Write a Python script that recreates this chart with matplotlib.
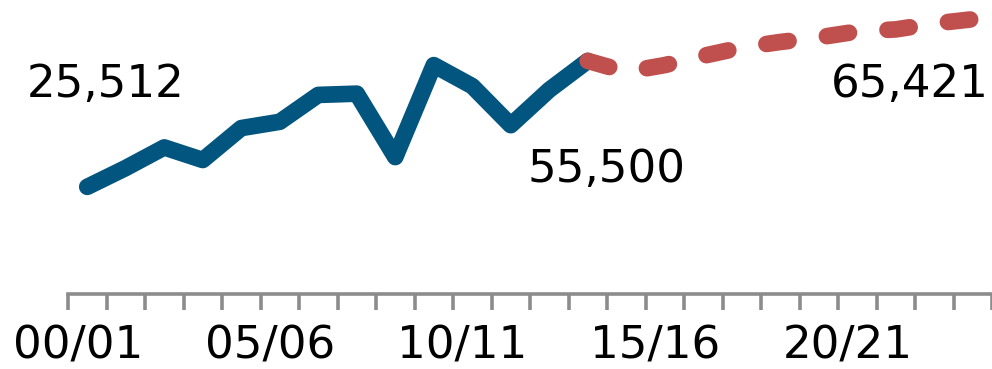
"""Enrolment-style trend: actual values (solid blue) and projection (dashed red)."""

import matplotlib
matplotlib.use('Agg')
import matplotlib.pyplot as plt
import numpy as np

# school years 00/01 .. 23/24, one category each
years = ['%02d/%02d' % (y, y + 1) for y in range(24)]
actual = [25512, 30000, 34900, 31900, 39500, 41000, 47400, 47700,
          32600, 54500, 49500, 40200, 48600, 55500]
projected = [55500, 52900, 54500, 56700, 58700, 60000, 61100,
             62500, 63000, 64400, 65421]
label_years = ['00/01', '05/06', '10/11', '15/16', '20/21']

BLUE = '#02557f'
RED = '#c0504d'
GREY = '#8c8c8c'
FS = 32.5
LW = 12

fig = plt.figure(figsize=(9.92, 3.69), dpi=100)
ax = fig.add_axes([68 / 992, 75 / 369, 1 - 68 / 992, 294 / 369])

x_act = np.arange(len(actual)) + 0.5
x_proj = np.arange(len(actual) - 1, len(actual) - 1 + len(projected)) + 0.5

ax.plot(x_act, actual, color=BLUE, lw=LW, solid_capstyle='round',
        solid_joinstyle='round', clip_on=False)
ax.plot(x_proj, projected, color=RED, lw=LW, dashes=(1.34, 2.32),
        dash_capstyle='round', dash_joinstyle='round', clip_on=False)

ax.set_xlim(0, 24)
ax.set_ylim(0, 70000)

# tick marks sit between categories, labels every fifth year
ax.set_xticks(np.arange(25), minor=True)
ax.set_xticks([years.index(y) + 0.25 for y in label_years])
ax.set_xticklabels(label_years, fontsize=FS)
ax.tick_params(axis='x', which='major', length=0, pad=22)
ax.tick_params(axis='x', which='minor', length=11.5, width=2.6, color=GREY)
ax.set_yticks([])

for side in ('top', 'right', 'left'):
    ax.spines[side].set_visible(False)
ax.spines['bottom'].set_color(GREY)
ax.spines['bottom'].set_linewidth(2.6)

# value labels
ax.annotate('{:,}'.format(actual[0]), (x_act[0], actual[0]), xytext=(18, 90),
            textcoords='offset pixels', ha='center', va='baseline', fontsize=FS)
ax.annotate('{:,}'.format(actual[-1]), (x_act[-1], actual[-1]), xytext=(19, -121),
            textcoords='offset pixels', ha='center', va='baseline', fontsize=FS)
ax.annotate('{:,}'.format(projected[-1]), (x_proj[-1], projected[-1]), xytext=(-63, -78),
            textcoords='offset pixels', ha='center', va='baseline', fontsize=FS)

fig.savefig('out.png', dpi=100)
